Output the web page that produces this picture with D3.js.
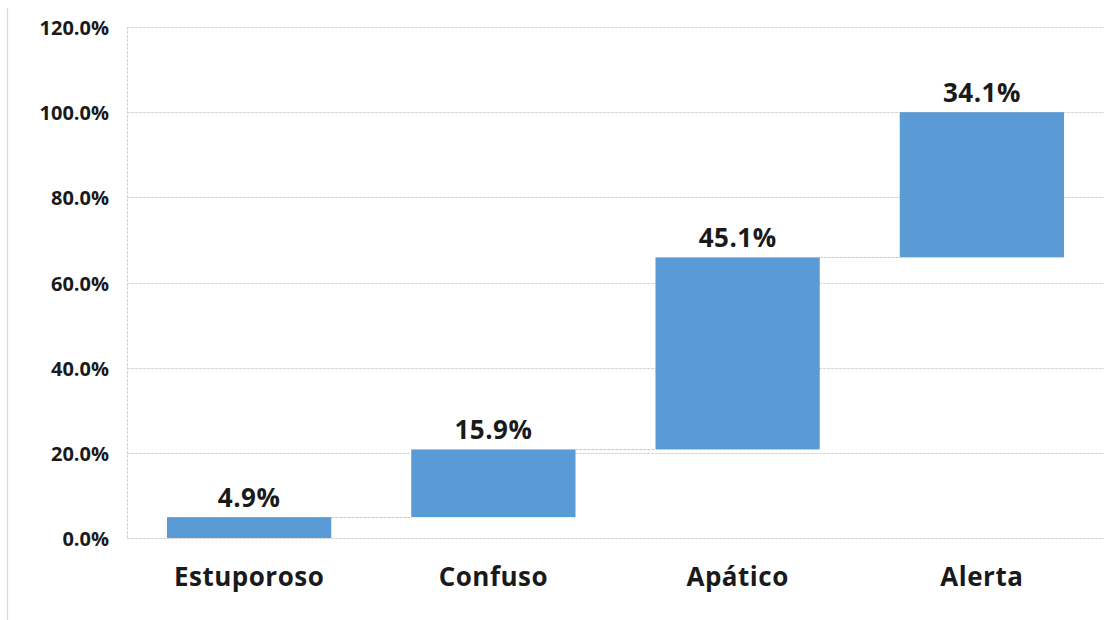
<!DOCTYPE html>
<html>
<head>
<meta charset="utf-8">
<script src="https://cdn.jsdelivr.net/npm/d3@7"></script>
<style>
  html, body { margin: 0; padding: 0; background: #fff; }
  svg { display: block; }
  text { font-family: "Open Sans", sans-serif; font-weight: bold; fill: #1a1a1a; }
</style>
</head>
<body>
<svg id="chart" width="1112" height="620"></svg>
<script>
const categories = ["Estuporoso", "Confuso", "Apático", "Alerta"];
const values = [4.9, 15.9, 45.1, 34.1];
const labels = ["4.9%", "15.9%", "45.1%", "34.1%"];
const tickValues = [0, 20, 40, 60, 80, 100, 120];
const tickLabels = ["0.0%", "20.0%", "40.0%", "60.0%", "80.0%", "100.0%", "120.0%"];

(function () {
const svg = d3.select("#chart");
const W = 1112, H = 620;
const pLeft = 127, pRight = 1104, pTop = 27, pBottom = 538;

const x = d3.scaleBand().domain(categories).range([pLeft, pRight])
  .paddingInner(0.3275).paddingOuter(0.16375);
const y = d3.scaleLinear().domain([0, 120]).range([pBottom, pTop]);

let run = 0;
const bars = categories.map((c, i) => {
  const start = run; run += values[i];
  return { c, start, end: run, label: labels[i] };
});

const gridColor = "#d3d3d3";

svg.append("line")
  .attr("x1", 7.5).attr("x2", 7.5).attr("y1", 8).attr("y2", H)
  .attr("stroke", "#d9d9d9").attr("stroke-width", 1.2);

svg.append("g").selectAll("line").data(tickValues).join("line")
  .attr("x1", pLeft).attr("x2", pRight)
  .attr("y1", d => Math.round(y(d)) + 0.5).attr("y2", d => Math.round(y(d)) + 0.5)
  .attr("stroke", gridColor).attr("stroke-width", 1)
  .attr("stroke-dasharray", "3,1");

svg.append("line")
  .attr("x1", pLeft + 0.5).attr("x2", pLeft + 0.5).attr("y1", y(120)).attr("y2", y(0))
  .attr("stroke", gridColor).attr("stroke-dasharray", "3,1");

svg.append("g").selectAll("line").data(bars.slice(0, -1)).join("line")
  .attr("x1", d => x(d.c) + x.bandwidth())
  .attr("x2", (d, i) => x(categories[i + 1]))
  .attr("y1", d => Math.round(y(d.end)) + 0.5)
  .attr("y2", d => Math.round(y(d.end)) + 0.5)
  .attr("stroke", "#c8c8c8").attr("stroke-dasharray", "3,1");

svg.append("g").selectAll("rect").data(bars).join("rect")
  .attr("x", d => x(d.c))
  .attr("width", x.bandwidth())
  .attr("y", d => y(d.end))
  .attr("height", d => y(d.start) - y(d.end))
  .attr("fill", "#5B9BD5");

svg.append("g").selectAll("text").data(bars).join("text")
  .attr("x", d => x(d.c) + x.bandwidth() / 2)
  .attr("y", d => y(d.end) - 10)
  .attr("text-anchor", "middle")
  .style("font-size", "26px")
  .style("letter-spacing", "0.5px")
  .text(d => d.label);

svg.append("g").selectAll("text").data(tickValues).join("text")
  .attr("x", 109)
  .attr("y", d => y(d) + 8)
  .attr("text-anchor", "end")
  .style("font-size", "20px")
  .text((d, i) => tickLabels[i]);

svg.append("g").selectAll("text").data(categories).join("text")
  .attr("x", d => x(d) + x.bandwidth() / 2)
  .attr("y", 586)
  .attr("text-anchor", "middle")
  .style("font-size", "26px")
  .style("letter-spacing", "0.5px")
  .text(d => d);
})();
</script>
</body>
</html>
